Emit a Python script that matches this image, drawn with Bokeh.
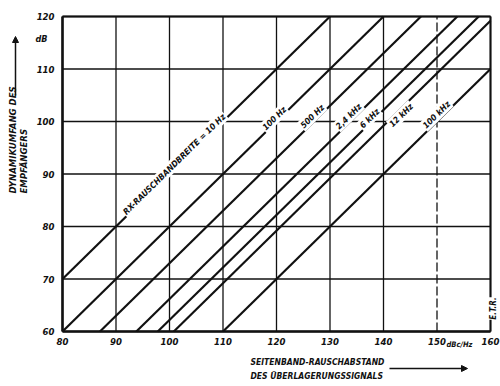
from bokeh.plotting import figure
from bokeh.models import Range1d, Arrow, NormalHead, ColumnDataSource
from bokeh.core.properties import value
from bokeh.embed import file_html
from bokeh.resources import INLINE

# ---- data ----
x_ticks = [80, 90, 100, 110, 120, 130, 140, 150, 160]
y_ticks = [60, 70, 80, 90, 100, 110, 120]
x_tick_labels = ["80", "90", "100", "110", "120", "130", "140", "150", "160"]
y_tick_labels = ["60", "70", "80", "90", "100", "110", "120"]
bandwidth_labels = ["RX-RAUSCHBANDBREITE = 10 Hz", "100 Hz", "500 Hz", "2,4 kHz", "6 kHz", "12 kHz", "100 kHz"]
# dynamic range = sideband noise ratio - offset (dB), offsets
noise_offset_db = [10.0, 20.0, 27.0, 33.8, 37.8, 40.8, 50.0]
label_x = [100.9, 119.6, 126.7, 133.5, 137.4, 143.3, 149.9]
label_y = [91.9, 100.6, 101.0, 101.0, 100.6, 101.2, 101.3]

X_MIN, X_MAX, Y_MIN, Y_MAX = 80, 160, 60, 120
FONT = "DejaVu Sans Condensed"
W, H = 500, 386
# frame of the diagram inside the canvas (pixels)
L, R, T, B = 62, 490, 16, 331
sx = (X_MAX - X_MIN) / (R - L)
sy = (Y_MAX - Y_MIN) / (B - T)

def X(px):
    return X_MIN + (px - L) * sx

def Y(py):
    return Y_MAX - (py - T) * sy

p = figure(width=W, height=H, output_backend="svg", toolbar_location=None,
           x_range=Range1d(X(0), X(W)), y_range=Range1d(Y(H), Y(0)),
           min_border=0, min_border_left=0, min_border_right=0,
           min_border_top=0, min_border_bottom=0)
p.axis.visible = False
p.grid.visible = False
p.outline_line_color = None
p.background_fill_color = "white"
p.border_fill_color = "white"

INK = "#111111"

# grid
solid_x = [t for t in x_ticks if t != 150]
p.segment(x0=solid_x, y0=[Y_MIN] * len(solid_x), x1=solid_x, y1=[Y_MAX] * len(solid_x),
          line_color=INK, line_width=1.3)
p.segment(x0=[150], y0=[Y_MIN], x1=[150], y1=[Y_MAX], line_color=INK, line_width=1.3,
          line_dash="9 3")
p.segment(x0=[X_MIN] * len(y_ticks), y0=y_ticks, x1=[X_MAX] * len(y_ticks), y1=y_ticks,
          line_color=INK, line_width=1.3)
# frame
p.segment(x0=[X_MIN, X_MIN], y0=[Y_MIN, Y_MIN], x1=[X_MIN, X_MAX], y1=[Y_MAX, Y_MIN],
          line_color=INK, line_width=2.6)
p.segment(x0=[X_MIN, X_MAX], y0=[Y_MAX, Y_MIN], x1=[X_MAX, X_MAX], y1=[Y_MAX, Y_MAX],
          line_color=INK, line_width=2.0)

# diagonal lines
x0s, y0s, x1s, y1s = [], [], [], []
for off in noise_offset_db:
    xa = max(X_MIN, Y_MIN + off)
    xb = min(X_MAX, Y_MAX + off)
    x0s.append(xa); y0s.append(xa - off)
    x1s.append(xb); y1s.append(xb - off)
src = ColumnDataSource(dict(x0=x0s, y0=y0s, x1=x1s, y1=y1s))
p.segment(x0="x0", y0="y0", x1="x1", y1="y1", source=src, line_color=INK, line_width=2.2)

# line labels
lsrc = ColumnDataSource(dict(x=label_x, y=label_y, t=bandwidth_labels))
p.text(x="x", y="y", text="t", source=lsrc, angle=44.5, angle_units="deg",
       text_align="center", text_baseline="middle", text_font=value(FONT),
       text_font_size="8.5px", text_font_style="bold italic", text_color=INK,
       background_fill_color="white", background_fill_alpha=1.0, padding=1)

# tick labels
p.text(x=x_ticks, y=[Y_MIN] * len(x_ticks), text=x_tick_labels, y_offset=6,
       text_align="center", text_baseline="top", text_font=value(FONT),
       text_font_size="9.5px", text_font_style="bold italic", text_color=INK)
p.text(x=[X_MIN] * len(y_ticks), y=y_ticks, text=y_tick_labels, x_offset=-8,
       text_align="right", text_baseline="middle", text_font=value(FONT),
       text_font_size="9.5px", text_font_style="bold italic", text_color=INK)

def lab(px, py, t, size="9px", angle=0, align="left", baseline="middle", bg=None):
    kw = {}
    if bg:
        kw = dict(background_fill_color=bg, background_fill_alpha=1.0)
    p.text(x=[X(px)], y=[Y(py)], text=[t], text_font=value(FONT),
           text_font_style="bold italic", text_font_size=size, text_color=INK,
           angle=angle, angle_units="deg", text_align=align, text_baseline=baseline, **kw)

# units
lab(47, 38, "dB", size="9px", align="right")
lab(446, 344, "dBc/Hz", size="7.5px", align="left")
# y axis title (rotated)
lab(12, 193, "DYNAMIKUMFANG DES", size="9.5px", angle=90, align="left")
lab(22.5, 193, "EMPFÄNGERS", size="9.5px", angle=90, align="left")
# x axis title
lab(250, 361, "SEITENBAND-RAUSCHABSTAND", size="8.5px")
lab(250, 375, "DES ÜBERLAGERUNGSSIGNALS", size="8.5px")
# E.T.R.
lab(493, 308, "E.T.R.", size="8px", angle=90, align="center", bg="white")

# arrows
p.add_layout(Arrow(x_start=X(15), y_start=Y(95), x_end=X(15), y_end=Y(36),
                   line_width=1.5, line_color=INK,
                   end=NormalHead(size=6, fill_color=INK, line_color=INK)))
p.add_layout(Arrow(x_start=X(389), y_start=Y(368), x_end=X(467), y_end=Y(368),
                   line_width=1.5, line_color=INK,
                   end=NormalHead(size=6, fill_color=INK, line_color=INK)))

open("out.html", "w").write(file_html(p, INLINE))
